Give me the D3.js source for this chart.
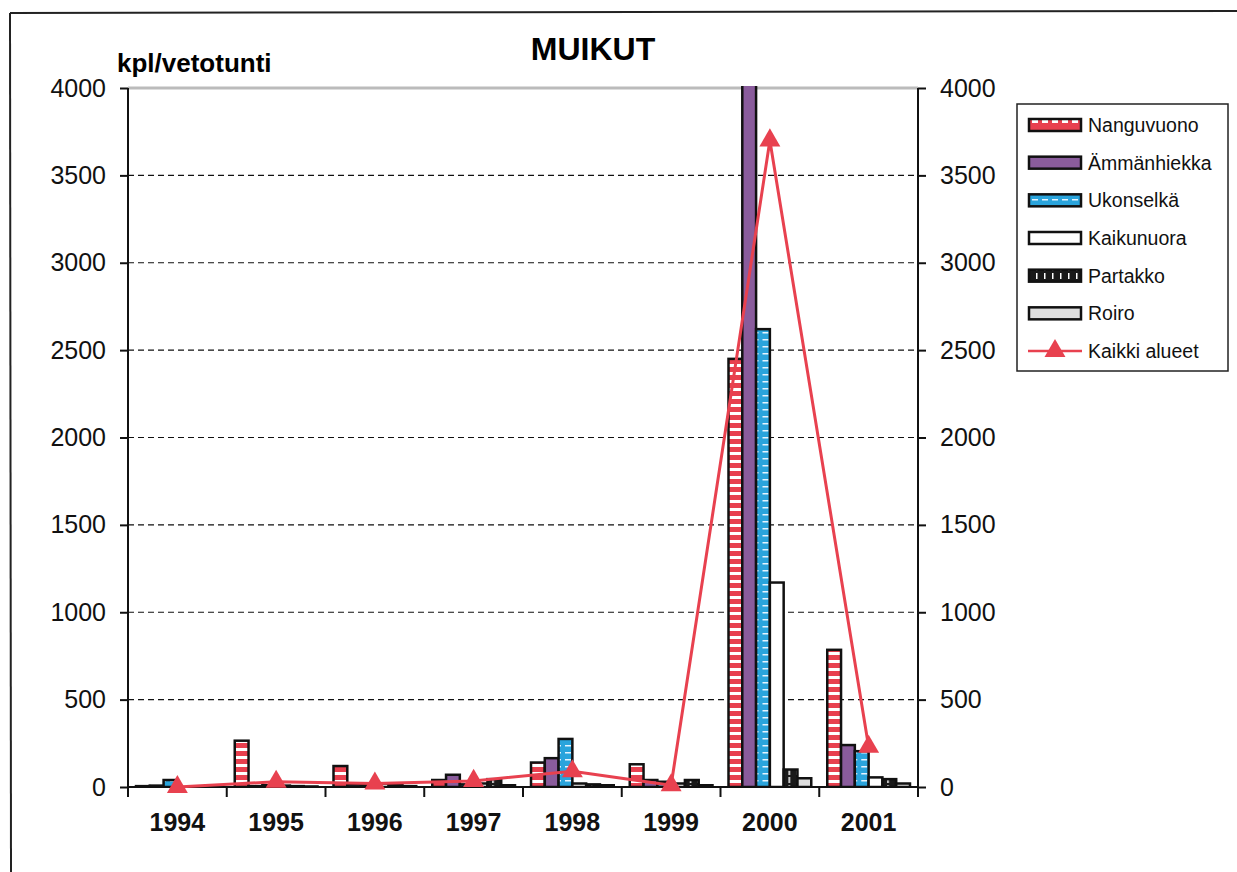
<!DOCTYPE html>
<html>
<head>
<meta charset="utf-8">
<script src="https://cdn.jsdelivr.net/npm/d3@7"></script>
<style>
  body { margin: 0; background: #fff; }
  svg { font-family: Arial, "Liberation Sans", sans-serif; }
  .grid line { stroke: #111; stroke-dasharray: 6 4; stroke-width: 1.2; }
  .axis path, .axis line { stroke: #111; stroke-width: 2; }
  .axis text { font-size: 25px; fill: #111; }
  .xaxis text { font-size: 25px; font-weight: bold; }
  .bar { stroke: #111; stroke-width: 2.5; }
  .legend text { font-size: 19.5px; fill: #111; }
</style>
</head>
<body>
<svg id="chart" width="1237" height="872"></svg>
<script>
var years = ["1994", "1995", "1996", "1997", "1998", "1999", "2000", "2001"];
var sites = ["Nanguvuono", "Ämmänhiekka", "Ukonselkä", "Kaikunuora", "Partakko", "Roiro"];

// kpl/vetotunti per site, one value per year
var nanguvuono  = [5, 265, 120, 40, 140, 130, 2450, 785];
var ammanhiekka = [8, 5, 15, 70, 165, 40, 4800, 240];
var ukonselka   = [40, 10, 12, 15, 275, 30, 2620, 205];
var kaikunuora  = [0, 8, 20, 20, 20, 20, 1170, 55];
var partakko    = [0, 5, 10, 45, 15, 40, 100, 45];
var roiro       = [0, 3, 5, 10, 10, 10, 50, 20];
var kaikkiAlueet = [0, 30, 20, 35, 90, 10, 3700, 230];

var yTicks = [0, 500, 1000, 1500, 2000, 2500, 3000, 3500, 4000];

var seriesValues = [nanguvuono, ammanhiekka, ukonselka, kaikunuora, partakko, roiro];

var svg = d3.select("#chart");
var plot = { left: 128, right: 918, top: 88, bottom: 787 };

/* patterns */
var defs = svg.append("defs");
var p = defs.append("pattern").attr("id", "pNang").attr("patternUnits", "userSpaceOnUse")
  .attr("width", 20).attr("height", 8);
p.append("rect").attr("width", 20).attr("height", 8).attr("fill", "#e8404f");
p.append("rect").attr("x", 0).attr("y", 4).attr("width", 20).attr("height", 3).attr("fill", "#fff");

var pn2 = defs.append("pattern").attr("id", "pNangL").attr("patternUnits", "userSpaceOnUse")
  .attr("width", 10).attr("height", 12);
pn2.append("rect").attr("width", 10).attr("height", 12).attr("fill", "#e8404f");
pn2.append("rect").attr("x", 2).attr("y", 0).attr("width", 6).attr("height", 3).attr("fill", "#fff");

p = defs.append("pattern").attr("id", "pUkon").attr("patternUnits", "userSpaceOnUse")
  .attr("width", 10).attr("height", 7);
p.append("rect").attr("width", 10).attr("height", 7).attr("fill", "#2aa4dc");
p.append("rect").attr("x", 2).attr("y", 3).attr("width", 6).attr("height", 1.5).attr("fill", "#e6f4ff");

p = defs.append("pattern").attr("id", "pPart").attr("patternUnits", "userSpaceOnUse")
  .attr("width", 8).attr("height", 8);
p.append("rect").attr("width", 8).attr("height", 8).attr("fill", "#1a1a1a");
p.append("rect").attr("x", 4).attr("y", 1).attr("width", 1.5).attr("height", 6).attr("fill", "#fff");

var fills = ["url(#pNang)", "#8a5c9c", "url(#pUkon)", "#fff", "url(#pPart)", "#dedede"];
var legendFills = ["url(#pNangL)", "#8a5c9c", "url(#pUkon)", "#fff", "url(#pPart)", "#dedede"];

defs.append("clipPath").attr("id", "plotClip").append("rect")
  .attr("x", plot.left).attr("y", plot.top - 2)
  .attr("width", plot.right - plot.left).attr("height", plot.bottom - plot.top + 2);

/* scales */
var x0 = d3.scaleBand().domain(years).range([plot.left, plot.right]);
var x1 = d3.scaleBand().domain(sites).range([8, x0.bandwidth() - 8]);
var y = d3.scaleLinear().domain([0, 4000]).range([plot.bottom, plot.top]);

/* frame lines of the scanned page */
svg.append("line").attr("x1", 10).attr("y1", 13).attr("x2", 1237).attr("y2", 11)
  .attr("stroke", "#222").attr("stroke-width", 2);
svg.append("line").attr("x1", 10).attr("y1", 13).attr("x2", 11).attr("y2", 872)
  .attr("stroke", "#222").attr("stroke-width", 2);

/* grid */
svg.append("g").attr("class", "grid")
  .selectAll("line").data(yTicks.filter(function(d) { return d > 0 && d < 4000; }))
  .enter().append("line")
  .attr("x1", plot.left).attr("x2", plot.right)
  .attr("y1", function(d) { return y(d); }).attr("y2", function(d) { return y(d); });
svg.append("line").attr("x1", plot.left).attr("x2", plot.right)
  .attr("y1", y(4000)).attr("y2", y(4000))
  .attr("stroke", "#bbb").attr("stroke-width", 3);

/* bars */
var groups = svg.append("g").attr("clip-path", "url(#plotClip)")
  .selectAll("g").data(years).enter().append("g")
  .attr("transform", function(d) { return "translate(" + x0(d) + ",0)"; });

groups.selectAll("rect")
  .data(function(d, i) {
    return sites.map(function(s, j) { return { site: s, j: j, value: seriesValues[j][i] }; });
  })
  .enter().append("rect")
  .attr("class", "bar")
  .attr("x", function(d) { return x1(d.site); })
  .attr("width", x1.bandwidth())
  .attr("y", function(d) { return y(d.value); })
  .attr("height", function(d) { return y(0) - y(d.value); })
  .attr("fill", function(d) { return fills[d.j]; });

/* axes */
var yAxisL = d3.axisLeft(y).tickValues(yTicks).tickSize(8).tickPadding(14).tickFormat(d3.format("d"));
svg.append("g").attr("class", "axis")
  .attr("transform", "translate(" + plot.left + ",0)")
  .call(yAxisL)
  .call(function(g) { g.select(".domain").attr("d", "M0," + plot.top + "V" + plot.bottom); });

var yAxisR = d3.axisRight(y).tickValues(yTicks).tickSize(8).tickPadding(14).tickFormat(d3.format("d"));
svg.append("g").attr("class", "axis")
  .attr("transform", "translate(" + plot.right + ",0)")
  .call(yAxisR)
  .call(function(g) { g.select(".domain").attr("d", "M0," + plot.top + "V" + plot.bottom); });

var xAxis = d3.axisBottom(x0).tickSize(0).tickPadding(26);
var gx = svg.append("g").attr("class", "axis xaxis")
  .attr("transform", "translate(0," + plot.bottom + ")")
  .call(xAxis);
gx.select(".domain").attr("d", "M" + plot.left + ",0H" + plot.right);
gx.selectAll(".sep").data(years.concat(["end"])).enter().append("line")
  .attr("x1", function(d) { return d === "end" ? plot.right : x0(d); })
  .attr("x2", function(d) { return d === "end" ? plot.right : x0(d); })
  .attr("y1", 0).attr("y2", 10).attr("stroke", "#111").attr("stroke-width", 2);

/* line: Kaikki alueet */
var lineColor = "#e8414f";
var lineGen = d3.line()
  .x(function(d, i) { return x0(years[i]) + x0.bandwidth() / 2; })
  .y(function(d) { return y(d); });
svg.append("path").attr("d", lineGen(kaikkiAlueet))
  .attr("fill", "none").attr("stroke", lineColor).attr("stroke-width", 3);
var tri = d3.symbol().type(d3.symbolTriangle).size(190);
svg.selectAll(".marker").data(kaikkiAlueet).enter().append("path")
  .attr("d", tri)
  .attr("fill", lineColor)
  .attr("transform", function(d, i) {
    return "translate(" + (x0(years[i]) + x0.bandwidth() / 2) + "," + y(d) + ")";
  });

/* titles */
svg.append("text").attr("x", 593).attr("y", 60).attr("text-anchor", "middle")
  .style("font-size", "32px").style("font-weight", "bold").text("MUIKUT");
svg.append("text").attr("x", 117).attr("y", 72)
  .style("font-size", "26px").style("font-weight", "bold").text("kpl/vetotunti");

/* legend */
var legend = svg.append("g").attr("class", "legend");
legend.append("rect").attr("x", 1017).attr("y", 104).attr("width", 211).attr("height", 267)
  .attr("fill", "#fff").attr("stroke", "#222").attr("stroke-width", 1.5);
var items = sites.concat(["Kaikki alueet"]);
var ly = d3.scalePoint().domain(items).range([125, 351]);
items.forEach(function(name, i) {
  var yy = ly(name);
  if (i < sites.length) {
    legend.append("rect").attr("x", 1029).attr("y", yy - 6).attr("width", 52).attr("height", 12)
      .attr("fill", legendFills[i]).attr("stroke", "#111").attr("stroke-width", 2.5);
  } else {
    legend.append("line").attr("x1", 1028).attr("x2", 1082).attr("y1", yy).attr("y2", yy)
      .attr("stroke", lineColor).attr("stroke-width", 2.5);
    legend.append("path").attr("d", tri).attr("fill", lineColor)
      .attr("transform", "translate(1055," + yy + ")");
  }
  legend.append("text").attr("x", 1088).attr("y", yy + 7).text(name);
});
</script>
</body>
</html>
